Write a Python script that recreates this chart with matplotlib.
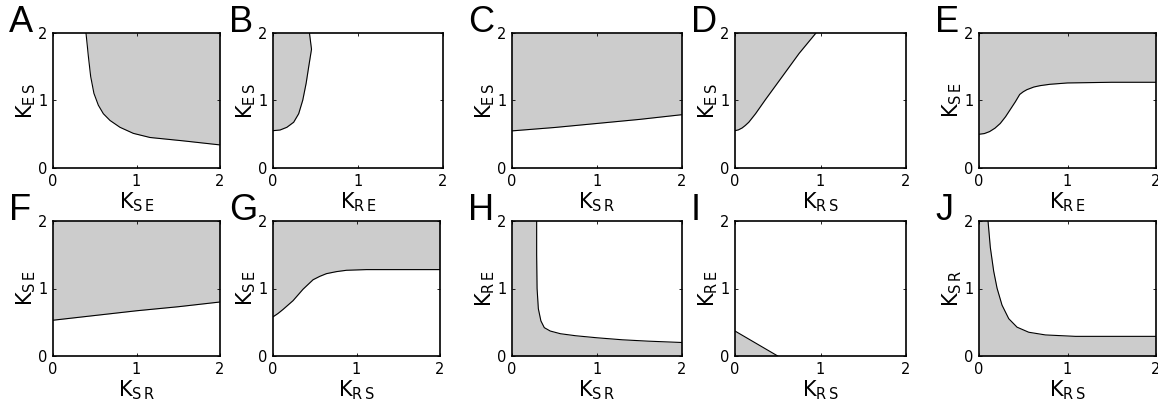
import matplotlib
matplotlib.use("Agg")
import matplotlib.pyplot as plt

# =========================
# BOUNDARY CURVES
# =========================
# A: K_ES vs K_SE, shaded above
a_x = [0.395, 0.41, 0.423, 0.451, 0.49, 0.543, 0.603, 0.683, 0.802, 0.962, 1.162, 1.561, 2.00]
a_y = [2.00, 1.82, 1.66, 1.357, 1.106, 0.93, 0.804, 0.704, 0.603, 0.513, 0.452, 0.402, 0.342]

# B: K_ES vs K_RE, shaded to the left
b_y = [0.553, 0.563, 0.603, 0.678, 0.804, 1.005, 1.256, 1.508, 1.759, 2.00]
b_x = [0.000, 0.083, 0.163, 0.243, 0.302, 0.350, 0.390, 0.421, 0.453, 0.429]

# C: K_ES vs K_SR, shaded above
c_x = [0.0, 0.5, 1.0, 1.5, 2.0]
c_y = [0.55, 0.60, 0.66, 0.72, 0.79]

# D: K_ES vs K_RS, shaded above
d_x = [0.000, 0.040, 0.083, 0.120, 0.161, 0.200, 0.240, 0.357, 0.554, 0.750, 0.947]
d_y = [0.553, 0.565, 0.593, 0.630, 0.678, 0.740, 0.804, 1.015, 1.357, 1.698, 2.00]

# E: K_SE vs K_RE, shaded above
e_x = [0.00, 0.06, 0.12, 0.18, 0.24, 0.30, 0.35, 0.41, 0.46, 0.50, 0.54, 0.62, 0.69, 0.80, 1.00, 1.50, 2.00]
e_y = [0.50, 0.51, 0.54, 0.59, 0.66, 0.76, 0.86, 0.98, 1.09, 1.13, 1.16, 1.20, 1.22, 1.24, 1.26, 1.27, 1.27]

# F: K_SE vs K_SR, shaded above
f_x = [0.0, 0.5, 1.0, 1.5, 2.0]
f_y = [0.53, 0.60, 0.67, 0.73, 0.80]

# G: K_SE vs K_RS, shaded above
g_x = [0.00, 0.06, 0.12, 0.24, 0.36, 0.48, 0.56, 0.64, 0.76, 0.88, 1.12, 1.50, 2.00]
g_y = [0.58, 0.63, 0.69, 0.82, 0.99, 1.13, 1.18, 1.22, 1.25, 1.27, 1.28, 1.28, 1.28]

# H: K_RE vs K_SR, shaded below
h_x = [0.00, 0.29, 0.29, 0.295, 0.31, 0.34, 0.38, 0.45, 0.57, 0.75, 1.00, 1.30, 1.60, 2.00]
h_y = [2.00, 2.00, 1.50, 1.00, 0.70, 0.52, 0.42, 0.37, 0.33, 0.30, 0.27, 0.24, 0.22, 0.20]

# I: K_RE vs K_RS, shaded below
i_x = [0.0, 0.5]
i_y = [0.37, 0.0]

# J: K_SR vs K_RS, shaded below
j_x = [0.000, 0.102, 0.128, 0.166, 0.204, 0.260, 0.336, 0.430, 0.562, 0.751, 1.090, 2.00]
j_y = [2.00, 2.00, 1.608, 1.256, 1.005, 0.754, 0.553, 0.427, 0.352, 0.312, 0.291, 0.291]

letters = ["A", "B", "C", "D", "E", "F", "G", "H", "I", "J"]
xlabels = ["SE", "RE", "SR", "RS", "RE", "SR", "RS", "SR", "RS", "RS"]
ylabels = ["ES", "ES", "ES", "ES", "SE", "SE", "SE", "RE", "RE", "SR"]

panels = [
    (a_x, a_y, "above"), (b_x, b_y, "left"), (c_x, c_y, "above"),
    (d_x, d_y, "above"), (e_x, e_y, "above"), (f_x, f_y, "above"),
    (g_x, g_y, "above"), (h_x, h_y, "below"), (i_x, i_y, "below"),
    (j_x, j_y, "below"),
]

# =========================
# LAYOUT (pixel boxes)
# =========================
W, H = 1158, 405
lefts = [53, 273, 512, 735, 979, 53, 273, 512, 735, 979]
widths = [167, 170, 170, 171, 177, 167, 167, 170, 171, 177]
tops = [33] * 5 + [221] * 5
height = 135

SHADE = "#cccccc"
tick_font = ["Liberation Sans Narrow", "DejaVu Sans"]

fig = plt.figure(figsize=(W / 100, H / 100), dpi=100)

for k, (x, y, mode) in enumerate(panels):
    ax = fig.add_axes([lefts[k] / W, 1 - (tops[k] + height) / H,
                       widths[k] / W, height / H])

    if mode == "above":
        ax.fill_between(x, y, 2, color=SHADE, lw=0)
        ax.plot(x, y, color="black", lw=0.8)
    elif mode == "left":
        ax.fill_betweenx(y, 0, x, color=SHADE, lw=0)
        ax.plot(x, y, color="black", lw=0.8)
    else:
        ax.fill_between(x, 0, y, color=SHADE, lw=0)
        start = 1 if y[0] == 2 else 0
        ax.plot(x[start:], y[start:], color="black", lw=0.8)

    ax.set_xlim(0, 2)
    ax.set_ylim(0, 2)
    ax.set_xticks([0, 1, 2])
    ax.set_yticks([0, 1, 2])
    ax.tick_params(direction="in", length=2.5, width=0.6, top=True, right=True,
                   labelsize=10.5, pad=4)
    for lab in ax.get_xticklabels() + ax.get_yticklabels():
        lab.set_family(tick_font)
    for s in ax.spines.values():
        s.set_linewidth(1.2)

    ax.set_xlabel(r"K$_{\mathregular{%s\,%s}}$" % (xlabels[k][0], xlabels[k][1]),
                  fontsize=15, labelpad=1)
    ax.set_ylabel(r"K$_{\mathregular{%s\,%s}}$" % (ylabels[k][0], ylabels[k][1]),
                  fontsize=15, labelpad=0)

    fig.text((lefts[k] - 44) / W, 1 - (tops[k] - 1) / H, letters[k],
             fontsize=26, family="Liberation Sans", ha="left", va="baseline")

fig.savefig("out.png", dpi=100)
